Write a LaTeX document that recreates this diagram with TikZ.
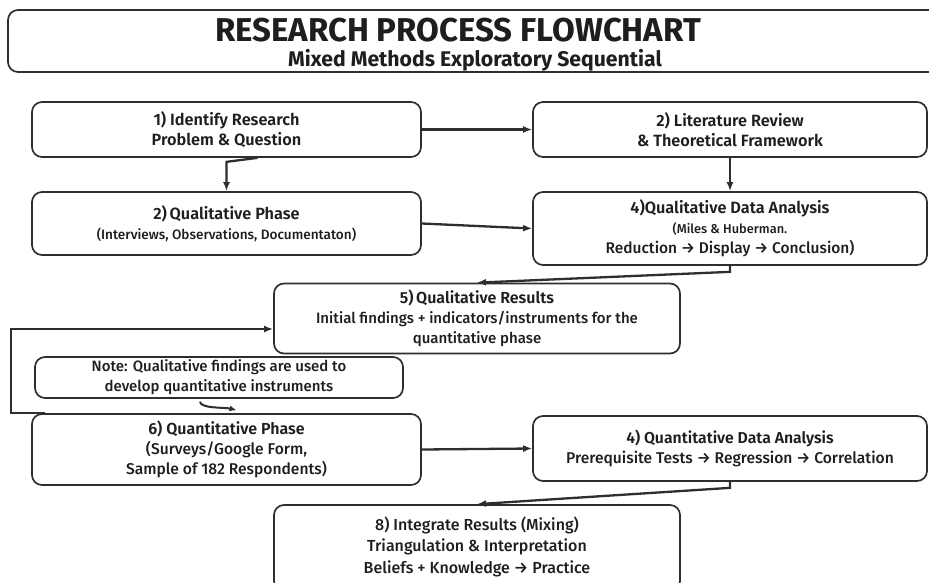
\documentclass[tikz,border=0pt]{standalone}
\usepackage{fontspec}
\setmainfont{Fira Sans}[UprightFont={* Medium}, BoldFont={* SemiBold}]
\newfontfamily\titlefont{Fira Sans}[UprightFont={* Bold}]
\usetikzlibrary{arrows.meta}
\definecolor{linec}{HTML}{2E2E2E}
\definecolor{textc}{HTML}{1E1E1E}
\newcommand{\fs}[2]{\fontsize{#1}{#2}\selectfont}
\begin{document}
\begin{tikzpicture}[x=1pt,y=-1pt,
  box/.style={draw=linec, line width=1.7pt, rounded corners=10pt, fill=white,
    align=center, inner sep=0pt, text=textc, font=\fs{15}{20}},
  arr/.style={draw=linec, line width=2.3pt, -{Latex[length=9pt,width=7pt]}},
]
\useasboundingbox (0,0) rectangle (929,582);

% title
\node[box, minimum width=932pt, minimum height=62pt] (title) at (474,41) {};
\node[text=textc, font=\titlefont\fs{33}{36}, inner sep=0pt] (t1) at (458,30.5)
  {RESEARCH PROCESS FLOWCHART};
\node[text=textc, font=\titlefont\fs{21.2}{23}, inner sep=0pt] (t2) at (475,60.5)
  {Mixed Methods Exploratory Sequential};

% boxes
\node[box, minimum width=389pt, minimum height=55pt] (b1) at (226.5,129.5)
  {\textbf{\fs{16.3}{20}1) Identify Research}\\\textbf{\fs{16.3}{20}Problem \& Question}};
\node[box, minimum width=394pt, minimum height=55pt] (lit) at (730,129.5)
  {\textbf{\fs{16.3}{20}2) Literature Review}\\\textbf{\fs{16.3}{20}\& Theoretical Framework}};
\node[box, minimum width=389pt, minimum height=63pt] (b2) at (226.5,223.5)
  {\textbf{\fs{16.3}{23}2)\,Qualitative Phase}\\{\fs{13.6}{23}(Interviews, Observations, Documentaton)}};
\node[box, minimum width=394pt, minimum height=73pt] (qa) at (730,228.5)
  {\textbf{\fs{16.3}{18}4)Qualitative Data Analysis}\\{\fs{12.8}{18}(Miles \& Huberman.}\\{\fs{15.5}{17}Reduction → Display → Conclusion)}};
\node[box, minimum width=406pt, minimum height=70pt] (b5) at (477,318.5)
  {\textbf{\fs{16}{19}5)\,Qualitative Results}\\{\fs{15}{17.5}Initial findings + indicators/instruments for the}\\{\fs{15}{17}quantitative phase}};
\node[box, minimum width=368pt, minimum height=41pt] (note) at (219,377.5)
  {{\fs{15}{18}Note: Qualitative findings are used to}\\{\fs{15}{18}develop quantitative instruments}};
\node[box, minimum width=389pt, minimum height=71pt] (b6) at (226.5,449.5)
  {\textbf{\fs{16}{20}6) Quantitative Phase}\\{\fs{15.6}{20}(Surveys/Google Form,}\\{\fs{15.6}{20}Sample of 182 Respondents)}};
\node[box, minimum width=394pt, minimum height=65pt] (qn) at (730,448.5)
  {\textbf{\fs{15.8}{20}4) Quantitative Data Analysis}\\{\fs{15.6}{20}Prerequisite Tests → Regression → Correlation}};
\node[box, minimum width=406pt, minimum height=86pt] (b8) at (477,548) {};
\node[text=textc, align=center, font=\fs{16}{21.5}, inner sep=0pt] (b8t) at (477,546.5)
  {8) Integrate Results (Mixing)\\Triangulation \& Interpretation\\Beliefs + Knowledge → Practice};

% connectors
\draw[arr] (b1) -- (lit);
\draw[arr] ([xshift=31pt]b1.south) -- ++(-31,4) -- (b2.north);
\draw[arr] (lit.south) -- (qa.north);
\draw[arr] (b2.east) -- (qa.west);
\draw[arr] (qa.south) -- ++(0,6) -- (b5.north);
\draw[arr] ([xshift=14pt]b6.north west) -- ++(-34,0) |- ([yshift=-10.5pt]b5.west);
\draw[arr, line width=2pt, -{Latex[length=7pt,width=6pt]}] ([xshift=-19pt,yshift=-3pt]note.south)
  .. controls ++(1,7) and ++(-12,-3) .. ([xshift=10pt,yshift=3pt]b6.north);
\draw[arr] (b6.east) -- (qn.west);
\draw[arr] (qn.south) -- ++(0,6) -- (b8.north);
\end{tikzpicture}
\end{document}
